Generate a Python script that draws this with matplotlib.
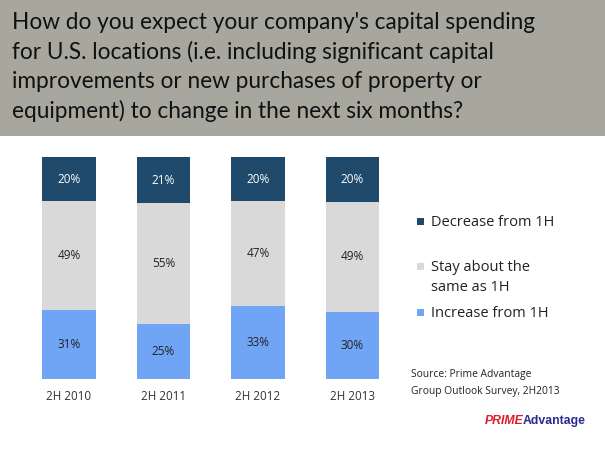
import matplotlib
matplotlib.use("Agg")
import matplotlib.pyplot as plt
from matplotlib.patches import Rectangle

plt.rcParams['font.family'] = ['Open Sans', 'DejaVu Sans']

# data
periods = ["2H 2010", "2H 2011", "2H 2012", "2H 2013"]
increase = [31, 25, 33, 30]
same = [49, 55, 47, 49]
decrease = [20, 21, 20, 20]
series_names = ["Decrease from 1H", "Stay about the\nsame as 1H", "Increase from 1H"]

title = ("How do you expect your company's capital spending\n"
         "for U.S. locations (i.e. including significant capital\n"
         "improvements or new purchases of property or\n"
         "equipment) to change in the next six months?")
source = "Source: Prime Advantage\nGroup Outlook Survey, 2H2013"

c_dec = "#1f4a6b"
c_same = "#d9d9d9"
c_inc = "#6fa5f4"
band = "#a8a79d"

W, H = 605, 453
fig = plt.figure(figsize=(W / 100, H / 100), dpi=100)
fig.patch.set_facecolor("white")

def fx(px):
    return px / W

def fy(py):
    return 1 - py / H

# title band
fig.patches.append(Rectangle((0, fy(136)), 1, 136 / H, transform=fig.transFigure,
                             facecolor=band, edgecolor="none", zorder=0))
fig.text(fx(12), fy(12), title, ha="left", va="top", fontsize=16.3,
         color="#111111", linespacing=1.45, family=["Lato", "DejaVu Sans"])

# bars (100% stacked, so each column is normalised to its own total)
totals = [a + b + c for a, b, c in zip(increase, same, decrease)]
inc_p = [v / t * 100 for v, t in zip(increase, totals)]
same_p = [v / t * 100 for v, t in zip(same, totals)]
dec_p = [v / t * 100 for v, t in zip(decrease, totals)]

ax = fig.add_axes([fx(21.75), fy(378.7), fx(378), (378.7 - 157) / H])
x = list(range(len(periods)))
bw = 0.566
ax.bar(x, inc_p, bw, color=c_inc, label=series_names[2])
ax.bar(x, same_p, bw, bottom=inc_p, color=c_same, label=series_names[1])
bottom3 = [a + b for a, b in zip(inc_p, same_p)]
ax.bar(x, dec_p, bw, bottom=bottom3, color=c_dec, label=series_names[0])

for i in x:
    ax.text(i, inc_p[i] / 2, f"{increase[i]}%", ha="center", va="center",
            fontsize=8.5, color="#222222")
    ax.text(i, inc_p[i] + same_p[i] / 2, f"{same[i]}%", ha="center", va="center",
            fontsize=8.5, color="#222222")
    ax.text(i, bottom3[i] + dec_p[i] / 2, f"{decrease[i]}%", ha="center",
            va="center", fontsize=8.5, color="white")

ax.set_xlim(-0.5, 3.5)
ax.set_ylim(0, 100)
ax.set_xticks(x)
ax.set_xticklabels(periods, fontsize=8.4, color="#333333")
ax.tick_params(axis="x", length=0, pad=8)
ax.set_yticks([])
for s in ax.spines.values():
    s.set_visible(False)

# legend (manual)
leg_items = [(c_dec, series_names[0], 221), (c_same, series_names[1], 266),
             (c_inc, series_names[2], 312)]
for col, name, yy in leg_items:
    fig.patches.append(Rectangle((fx(417), fy(yy + 4)), fx(7), 7 / H,
                                 transform=fig.transFigure, facecolor=col,
                                 edgecolor="none"))
    fig.text(fx(431), fy(yy - 6), name, ha="left", va="top", fontsize=10.5,
             color="#222222", linespacing=1.45)

fig.text(fx(411), fy(369), source, ha="left", va="top", fontsize=7.4,
         color="#222222", linespacing=1.7)

# logo
logo_font = ["Liberation Sans Narrow", "Liberation Sans", "DejaVu Sans"]
t1 = fig.text(fx(485), fy(421), "PRIME", ha="left", va="center", fontsize=8.8,
              fontweight="bold", fontstyle="italic", color="#d81f2a",
              family=logo_font)
fig.canvas.draw()
bb = t1.get_window_extent()
fig.text(bb.x1 / W - fx(1), fy(421), "Advantage", ha="left", va="center",
         fontsize=8.8, fontweight="bold", color="#2a2a8c", family=logo_font)

fig.savefig("out.png", dpi=100)
